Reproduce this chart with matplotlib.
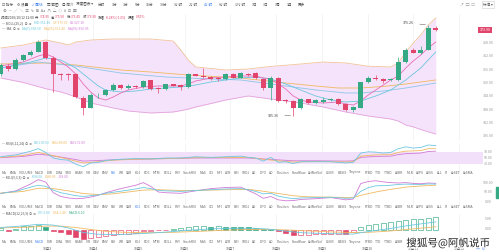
import numpy as np
import matplotlib
matplotlib.use("Agg")
import matplotlib.pyplot as plt
from matplotlib import patheffects
from matplotlib.transforms import blended_transform_factory as blend

plt.rcParams['font.family'] = ['Noto Sans CJK SC', 'DejaVu Sans']

# 4h candles
open_ = [354.1, 357.8, 356.2, 360.4, 362.65, 364.1, 368.4, 361.4, 354.0, 354.0,
         354.0, 343.45, 338.9, 344.5, 344.65, 346.9, 349.15, 347.65, 348.7, 348.4,
         351.25, 347.65, 347.35, 349.45, 349.0, 348.1, 354.0, 353.35, 352.9, 352.15,
         351.85, 354.0, 352.5, 354.25, 354.4, 351.7, 347.65, 352.45, 342.25, 341.95,
         338.65, 342.7, 340.9, 341.65, 342.25, 343.0, 340.75, 337.9, 338.9, 350.6,
         352.45, 352.0, 351.25, 351.4, 359.35, 365.05, 363.55, 365.05, 374.95]
high = [359.05, 358.6, 361.3, 363.1, 364.9, 369.4, 368.95, 362.2, 354.55, 354.55,
        354.55, 344.2, 345.55, 345.55, 347.35, 350.05, 349.6, 349.6, 349.15, 351.4,
        351.6, 348.25, 349.8, 349.8, 349.6, 354.55, 354.3, 356.8, 353.4, 352.75,
        354.55, 354.55, 355.0, 354.55, 354.8, 352.1, 353.0, 352.75, 342.85, 342.4,
        343.3, 343.05, 342.85, 343.75, 343.5, 343.3, 341.05, 339.9, 350.7, 353.0,
        353.65, 352.3, 352.1, 361.75, 365.6, 365.8, 366.7, 376.26, 375.5]
low = [353.2, 355.45, 355.9, 359.95, 362.2, 364.0, 360.85, 346.1, 351.4, 351.4,
       343.3, 335.65, 338.6, 343.5, 344.2, 346.45, 347.35, 347.35, 347.8, 348.0,
       346.9, 345.55, 346.9, 348.5, 346.9, 347.8, 353.0, 352.5, 351.6, 351.15,
       351.4, 352.3, 352.3, 353.2, 351.7, 346.9, 342.4, 341.5, 341.25, 335.36,
       338.35, 340.4, 340.6, 341.25, 341.95, 340.15, 337.45, 336.8, 338.75, 350.25,
       351.6, 350.05, 350.95, 351.15, 359.05, 363.35, 363.1, 364.7, 373.45]
close = [358.15, 356.2, 360.4, 362.65, 364.1, 368.4, 361.4, 354.0, 353.65, 353.8,
         343.9, 338.9, 344.65, 344.65, 346.9, 349.15, 347.65, 348.85, 348.25, 350.95,
         347.35, 347.2, 349.45, 348.85, 348.1, 354.0, 353.35, 352.9, 352.0, 351.7,
         354.0, 352.5, 354.7, 353.65, 352.15, 347.65, 352.45, 341.95, 341.95, 338.65,
         342.85, 340.9, 342.4, 342.25, 343.0, 340.45, 337.9, 339.4, 350.35, 352.45,
         352.0, 351.1, 351.7, 359.35, 365.05, 363.7, 365.05, 374.95, 373.9]

# bollinger band (upper / lower), sampled
boll_idx = [0, 3, 6, 8, 9, 10, 12, 15, 17, 20, 23, 24, 25, 26, 28, 30, 33, 36, 40,
            43, 46, 49, 52, 53, 54, 55, 56, 57, 58]
boll_up = [365.8, 367.15, 369.4, 368.05, 367.15, 368.5, 369.4, 369.85, 369.85, 369.85,
           368.95, 364.9, 360.4, 357.25, 356.6, 355.9, 356.35, 357.5, 358.6, 359.5,
           359.05, 357.6, 357.25, 359.05, 364.0, 368.05, 371.65, 376.15, 379.3]
boll_lo = [352.3, 350.3, 347.5, 346.0, 345.0, 343.75, 341.05, 338.8, 337.45, 336.55,
           337.0, 337.6, 338.3, 339.25, 340.8, 342.4, 344.2, 342.85, 341.05, 339.25,
           337.0, 335.2, 333.85, 332.95, 331.15, 330.3, 329.1, 328.1, 327.1]

# moving averages, sampled
ma_fast_idx = [0, 3, 5, 6, 7, 8, 9, 10, 11, 12, 13, 14, 15, 16, 17, 19, 21, 24, 25, 26,
               28, 30, 32, 34, 35, 36, 37, 38, 39, 40, 41, 43, 45, 46, 47, 48, 49, 50,
               51, 52, 53, 54, 55, 56, 57, 58]
ma_fast = [357.7, 359.5, 362.2, 363.1, 361.75, 359.5, 357.25, 354.1, 349.6, 346.0,
           343.3, 342.4, 343.75, 345.55, 346.9, 348.25, 348.7, 348.7, 349.6, 350.95,
           352.3, 352.75, 353.2, 353.2, 352.3, 351.85, 349.6, 347.35, 344.2, 342.4,
           341.5, 341.05, 341.5, 340.6, 340.15, 341.95, 344.65, 346.9, 349.15, 351.4,
           353.2, 356.8, 359.95, 362.65, 365.8, 368.5]
ma_mid_idx = [0, 4, 6, 8, 10, 12, 13, 14, 16, 18, 20, 22, 24, 26, 28, 30, 32, 34, 36,
              38, 40, 42, 44, 46, 48, 50, 52, 54, 56, 58]
ma_mid = [356.8, 359.5, 361.3, 360.4, 356.8, 351.4, 348.7, 346.9, 346.0, 346.45,
          347.35, 347.8, 348.25, 349.15, 350.5, 351.4, 352.3, 352.75, 351.85, 349.6,
          346.9, 344.2, 342.4, 341.5, 341.95, 344.2, 346.9, 351.4, 356.8, 364.0]
ma_slow_idx = [0, 6, 10, 16, 20, 25, 32, 38, 42, 45, 48, 51, 54, 58]
ma_slow = [358.6, 359.05, 358.15, 355.9, 355.0, 353.65, 352.3, 350.05, 348.7, 347.8,
           347.8, 348.5, 349.6, 351.4]
ma_long_idx = [0, 5, 10, 16, 22, 28, 32, 38, 42, 46, 48, 51, 54, 58]
ma_long = [356.8, 359.5, 357.7, 354.55, 352.75, 351.85, 351.4, 348.7, 346.9, 345.55,
           345.55, 346.45, 347.8, 350.05]

# RSI(6,12,24)
rsi1_idx = [0, 2, 4, 5, 6, 7, 8, 9, 10, 11, 12, 13, 14, 16, 18, 20, 22, 24, 26, 28,
            30, 32, 33, 34, 35, 36, 37, 38, 39, 40, 42, 44, 46, 47, 48, 49, 50, 51,
            52, 53, 54, 55, 56, 57, 58]
rsi1 = [54, 60, 72, 80, 68, 50, 45, 43, 30, 22, 34, 36, 42, 46, 48, 47, 50, 50, 54, 52,
        54, 56, 52, 50, 40, 52, 36, 38, 32, 38, 38, 38, 34, 36, 66, 70, 69, 66,
        68, 80, 86, 82, 84, 92, 90]
rsi2_idx = [0, 3, 5, 6, 8, 10, 11, 13, 15, 18, 22, 26, 30, 33, 35, 37, 39, 42, 46, 47,
            48, 50, 52, 53, 54, 56, 57, 58]
rsi2 = [52, 58, 68, 63, 52, 40, 34, 38, 43, 46, 48, 51, 52, 52, 46, 41, 37, 39, 37, 38,
        56, 60, 61, 68, 72, 74, 80, 80]
rsi3_idx = [0, 3, 5, 6, 8, 10, 11, 13, 16, 20, 26, 30, 33, 35, 37, 39, 42, 46, 47, 48,
            50, 52, 53, 54, 56, 57, 58]
rsi3 = [51, 55, 62, 60, 53, 45, 40, 42, 45, 47, 50, 50, 50, 47, 44, 41, 41, 40, 41, 52,
        55, 56, 61, 64, 66, 71, 72]

# KDJ(9,3,3)
k_idx = [0, 2, 4, 5, 6, 7, 8, 9, 10, 11, 12, 13, 14, 16, 18, 19, 20, 21, 22, 24, 26,
         28, 30, 32, 33, 34, 35, 36, 37, 38, 39, 40, 42, 44, 46, 47, 48, 49, 50, 51,
         52, 53, 54, 55, 56, 57, 58]
k_val = [45, 55, 78, 88, 82, 62, 48, 40, 32, 28, 32, 36, 45, 56, 68, 76, 70, 60, 58, 55,
         60, 64, 68, 70, 64, 55, 42, 45, 30, 22, 16, 20, 22, 24, 18, 20, 55, 75, 85, 86,
         88, 92, 94, 93, 92, 95, 94]
d_idx = [0, 3, 5, 7, 9, 11, 13, 15, 17, 19, 21, 24, 27, 30, 33, 35, 37, 39, 41, 44, 47,
         48, 50, 52, 54, 56, 58]
d_val = [46, 55, 72, 70, 58, 44, 38, 42, 52, 62, 64, 60, 61, 64, 66, 56, 44, 32, 26, 24,
         22, 34, 52, 66, 78, 84, 88]
j_idx = k_idx
j_val = [44, 58, 95, 118, 105, 48, 28, 20, 16, 18, 25, 34, 48, 70, 88, 102, 82, 52, 48,
         45, 58, 70, 76, 78, 60, 42, 18, 28, 10, 5, 6, 12, 16, 22, 10, 14, 97, 108, 112,
         106, 102, 100, 102, 98, 96, 100, 98]

# MACD(12,26,9)
macd_hist = [0.6, -0.5, 0.1, 1.7, 2.0, 2.1, 1.2, -0.9, -1.4, -2.2,
             -3.5, -4.8, -4.3, -3.8, -3.2, -2.7, -2.2, -2.0, -1.5, -0.8,
             -0.6, -0.3, -0.1, 0.3, 1.0, 1.5, 1.9, 2.0, 1.5, 1.6,
             1.5, 1.4, 1.3, 1.2, 1.0, 0.2, 0.1, -0.8, -1.8, -2.7,
             -2.6, -2.5, -2.4, -2.3, -2.2, -2.1, -2.3, -1.2, 1.5, 2.2,
             3.0, 3.3, 3.8, 4.5, 4.8, 5.3, 5.4, 5.8, 6.1]
dif_idx = [0, 3, 5, 7, 9, 11, 13, 16, 19, 22, 25, 28, 31, 34, 36, 38, 40, 43, 46, 47,
           48, 50, 52, 54, 56, 58]
dif = [1.0, 1.8, 2.6, 2.2, 0.8, -1.5, -2.4, -2.5, -2.0, -1.3, -0.4, 0.3, 0.6, 0.6, 0.1,
       -0.8, -1.6, -2.0, -2.2, -2.3, -1.6, -0.5, 0.5, 1.8, 2.8, 3.8]
dea_idx = [0, 4, 6, 8, 10, 12, 14, 17, 20, 23, 26, 29, 32, 35, 38, 41, 44, 47, 49, 51,
           53, 55, 57, 58]
dea = [0.8, 1.2, 1.7, 1.7, 1.0, 0.0, -0.9, -1.5, -1.6, -1.4, -1.0, -0.5, -0.1, 0.1,
       -0.2, -0.7, -1.2, -1.5, -1.4, -1.0, -0.4, 0.3, 1.0, 1.4]

price_ticks = [368, 362, 356, 350, 344, 338, 332, 326]
date_pos = [6.2, 12.3, 18.4, 24.5, 30.6, 36.7, 42.8, 48.9, 55.0, 61.1]
date_labels = ["10月3", "10月4", "10月5", "10月6", "10月7", "10月8", "10月9",
               "10月10", "10月11", "10月12"]
periods = ["分时", "1分", "3分", "5分", "15分", "30分", "1小时", "2小时", "4小时",
           "6小时", "12小时", "1日", "3日", "1周", "1月", "更多"]
ind_names = ["MA", "EMA", "VOLUME", "MACD", "DMI", "DMA", "TRIX", "BRAR", "VR", "OBV",
             "EMV", "RSI", "WR", "SAR", "KDJ", "ROC", "MTM", "BOLL", "PSY", "StochRSI",
             "MAS", "CCI", "MFI", "ATR", "BBI", "SKDJ", "AD", "DPO", "AO", "Position",
             "Fundflow", "AvlNetVol", "LSUR", "BASIS", "Tinyone", "FTBD", "TTD", "TTBD",
             "AVBR", "MLR", "AVPS", "AVSS", "ALL", "PI", "AvSET", "AvSMA"]

W, H = 499, 252
STEP = 7.5
GREEN = "#35a984"
RED = "#e2456b"
CYAN = "#6cc8e0"
YELLOW = "#f0b961"
PURPLE = "#d27ad6"
PINK = "#e86fb8"
GREY = "#9a9a9a"
DARK = "#555555"
BLUE = "#3d7ff0"


def panel(fig, top, bottom, ylim):
    ax = fig.add_axes([0, 1 - bottom / H, 1, (bottom - top) / H])
    ax.set_xlim(-0.1, W / STEP - 0.1)
    ax.set_ylim(*ylim)
    ax.axis("off")
    ax.vlines(date_pos, ylim[0], ylim[1], color="#f0f0f0", lw=0.5, zorder=0)
    return ax


def ftext(fig, x, y, s, color=DARK, size=3.0, **kw):
    return fig.text(x / W, 1 - y / H, s, color=color, fontsize=size, va="center", **kw)


def seq(fig, x, y, pieces, size=2.6, gap=1.5):
    # lay out coloured pieces one after another along a row
    r = fig.canvas.get_renderer()
    for s, col in pieces:
        t = ftext(fig, x, y, s, col, size)
        x += t.get_window_extent(r).width + gap
    return x


def axis_label(ax, y, s):
    tr = blend(ax.transAxes, ax.transData)
    ax.text(488 / W, y, s, transform=tr, ha="center", va="center", fontsize=2.6, color=GREY)


def draw_main(fig):
    ax = panel(fig, 14, 140, (324.4, 381.1))
    ax.fill_between(boll_idx, boll_lo, boll_up, color="#f4e3fa", lw=0, zorder=1)
    ax.plot(boll_idx, boll_up, color="#f0c29a", lw=0.6, zorder=2)
    ax.plot(boll_idx, boll_lo, color="#e5a2dd", lw=0.6, zorder=2)
    ax.plot(ma_slow_idx, ma_slow, color=YELLOW, lw=0.6, zorder=2)
    ax.plot(ma_long_idx, ma_long, color="#8ec6e8", lw=0.6, zorder=2)
    ax.plot(ma_mid_idx, ma_mid, color=CYAN, lw=0.6, zorder=2)
    ax.plot(ma_fast_idx, ma_fast, color=PINK, lw=0.6, zorder=2)

    o, h, l, c = map(np.array, (open_, high, low, close))
    idx = np.arange(len(c))
    colors = np.where(c >= o, GREEN, RED)
    ax.vlines(idx, l, h, colors=colors, lw=0.5, zorder=3)
    body = np.maximum(np.abs(c - o), 0.35)
    ax.bar(idx, body, bottom=np.minimum(o, c), width=0.62, color=colors, lw=0, zorder=4)

    # max / min markers
    hi = int(np.argmax(h))
    lo = int(np.argmin(l))
    ax.annotate(f"{h[hi]:.2f}", xy=(hi, h[hi]), xytext=(hi - 2.6, h[hi] + 0.6),
                fontsize=2.6, color="#444444", ha="center", va="center",
                arrowprops=dict(arrowstyle="-", color="#666666", lw=0.4))
    ax.annotate(f"{l[lo]:.2f}", xy=(lo, l[lo]), xytext=(lo - 2.6, l[lo]),
                fontsize=2.6, color="#444444", ha="center", va="center",
                arrowprops=dict(arrowstyle="-", color="#666666", lw=0.4))

    for p in price_ticks:
        axis_label(ax, p, f"{p:.2f}")
    tr = blend(ax.transAxes, ax.transData)
    ax.text(485 / W, c[-1], f"{c[-1]:.2f}", transform=tr, ha="center", va="center",
            fontsize=2.6, color="white",
            bbox=dict(facecolor=RED, edgecolor="none", pad=0.9))


def draw_rsi(fig):
    ax = panel(fig, 142.5, 173.5, (0, 100))
    ax.axhspan(30, 70, xmin=0, xmax=483 / W, color="#f2dff9", lw=0, zorder=0)
    ax.plot(rsi3_idx, rsi3, color=PURPLE, lw=0.6)
    ax.plot(rsi2_idx, rsi2, color=YELLOW, lw=0.6)
    ax.plot(rsi1_idx, rsi1, color=CYAN, lw=0.6)
    for v in (70, 50, 30):
        axis_label(ax, v, f"{v:.2f}")


def draw_kdj(fig):
    ax = panel(fig, 176, 206, (-23, 137.4))
    ax.plot(j_idx, j_val, color=PURPLE, lw=0.6)
    ax.plot(d_idx, d_val, color=YELLOW, lw=0.6)
    ax.plot(k_idx, k_val, color=CYAN, lw=0.6)
    for v in (100, 50, 0):
        axis_label(ax, v, f"{v:.2f}")


def draw_macd(fig):
    ax = panel(fig, 214, 241, (-5.75, 7.75))
    prev = 0.0
    for i, v in enumerate(macd_hist):
        col = GREEN if v >= 0 else RED
        face = col if v < prev else "white"
        ax.bar(i, v, width=0.7, facecolor=face, edgecolor=col, lw=0.45, zorder=2)
        prev = v
    ax.plot(dea_idx, dea, color=YELLOW, lw=0.6, zorder=3)
    ax.plot(dif_idx, dif, color=CYAN, lw=0.6, zorder=3)
    for v in (5, 0):
        axis_label(ax, v, f"{v:.2f}")


def draw_header(fig):
    # toolbar
    seq(fig, 2, 4.5, [("⊡ 指标", DARK), ("⚙ 设置", DARK), ("✓ 画线", BLUE),
                      ("▤ 截图", DARK), ("◎ 简介", DARK)], size=2.6, gap=4)
    ftext(fig, 76, 4.5, "深度图表 ▾", DARK, size=2.6)
    seq(fig, 98, 4.5, [(s, BLUE if s == "4小时" else DARK) for s in periods],
        size=2.6, gap=6)
    ftext(fig, 460, 4.5, "↗  ▢  ☐", GREY, size=2.8)
    ftext(fig, 483, 4.5, "标准 ▾", DARK, size=2.6,
          bbox=dict(facecolor="white", edgecolor="#cccccc", lw=0.4, pad=0.8))
    ftext(fig, 3, 11, "⊕  —  ╱  ╲  ≡  ∿  ⊞  Aa  ∩  △  ◇  #  ⊡  ⊠", "#777777", size=2.8)

    # candle info
    o, h, l, c = open_[-1], high[-1], low[-1], close[-1]
    chg = c - close[-2]
    seq(fig, 1, 17.5, [("时间2020/10/12 12:00", "#444444"),
                       ("开", "#444444"), (f"{o:.2f}", RED),
                       ("高", "#444444"), (f"{h:.2f}", RED),
                       ("低", "#444444"), (f"{l:.2f}", RED),
                       ("收", "#444444"), (f"{c:.2f}", RED),
                       ("涨幅", "#444444"), (f"{chg / close[-2] * 100:.2f}%({chg:.2f})", RED),
                       ("振幅", "#444444"), (f"{(h - l) / close[-2] * 100:.2f}%", RED)],
        size=2.4, gap=1.2)

    seq(fig, 2, 23, [("— BOLL(20,2)  ⊙ ⚙", DARK), (f"MID:{ma_slow[-1]:.2f}", CYAN),
                     (f"UP:{boll_up[-1]:.2f}", YELLOW), (f"LB:{boll_lo[-1]:.2f}", PURPLE)],
        size=2.4, gap=2)
    seq(fig, 2, 28.5, [("—  MA  ⊙ ⚙", DARK), (f"MA(7):{ma_fast[-1]:.2f}", CYAN),
                       (f"MA(25):{ma_slow[-1]:.2f}", YELLOW),
                       (f"MA(99):{ma_long[-1]:.2f}", PURPLE)],
        size=2.4, gap=2)


def draw_sub_labels(fig):
    seq(fig, 2, 143, [("— RSI(6,12,24) ⊙ ⚙", DARK), (f"RSI1:{rsi1[-1]:.2f}", CYAN),
                      (f"RSI2:{rsi2[-1]:.2f}", YELLOW), (f"RSI3:{rsi3[-1]:.2f}", PURPLE)],
        size=2.4, gap=2)
    seq(fig, 2, 177.5, [("— KDJ(9,3,3) ⊙ ⚙", DARK), (f"K:{k_val[-1]:.2f}", CYAN),
                        (f"D:{d_val[-1]:.2f}", YELLOW), (f"J:{j_val[-1]:.2f}", PURPLE)],
        size=2.4, gap=2)
    seq(fig, 2, 213, [("— MACD(12,26,9) ⊙ ⚙", DARK), (f"DIF:{dif[-1]:.2f}", CYAN),
                      (f"DEA:{dea[-1]:.2f}", YELLOW), (f"MACD:{macd_hist[-1]:.2f}", GREEN)],
        size=2.4, gap=2)

    for y, active in [(172.5, "RSI"), (207, "KDJ"), (242, "MACD")]:
        seq(fig, 2, y, [(s, BLUE if s == active else "#666666") for s in ind_names],
            size=2.4, gap=2.6)

    for p, s in zip(date_pos, date_labels):
        fig.text((p + 0.1) * STEP / W, 1 - 249 / H, s, fontsize=2.5, color="#666666",
                 ha="center", va="center")


def main():
    fig = plt.figure(figsize=(W / 100, H / 100), dpi=100)
    fig.patch.set_facecolor("white")

    draw_main(fig)
    draw_rsi(fig)
    draw_kdj(fig)
    draw_macd(fig)
    draw_header(fig)
    draw_sub_labels(fig)

    # scroll handle on the right edge
    fig.patches.append(plt.Rectangle((496 / W, 1 - 198 / H), 3 / W, 11 / H,
                                     transform=fig.transFigure, color=GREEN))
    ftext(fig, 476, 249, "↔  ⚙", "#5b8de8", size=2.8)

    wm = fig.text(448 / W, 1 - 243 / H, "搜狐号@阿帆说币", fontsize=7.6, color="#222222",
                  ha="center", va="center")
    wm.set_path_effects([patheffects.withStroke(linewidth=1.8, foreground="white")])

    fig.savefig("out.png", dpi=100)


if __name__ == "__main__":
    main()
